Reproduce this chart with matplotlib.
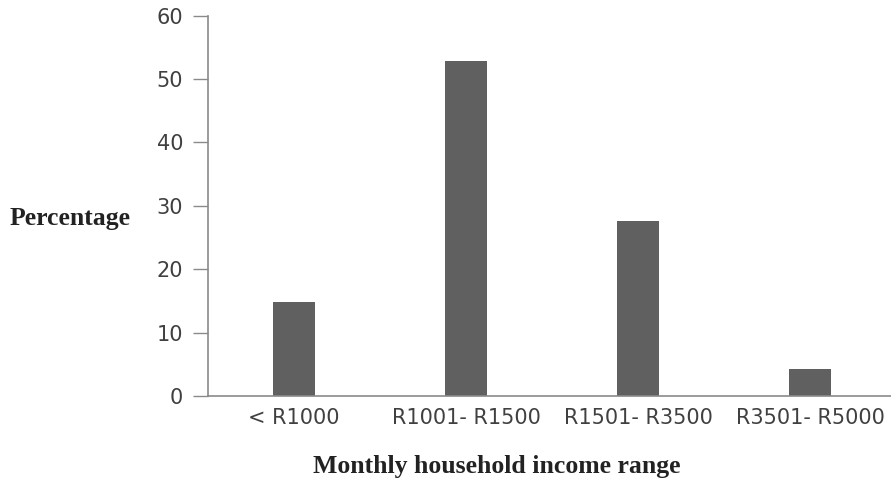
import matplotlib
matplotlib.use("Agg")
import matplotlib.pyplot as plt

categories = ["< R1000", "R1001- R1500", "R1501- R3500", "R3501- R5000"]
percentages = [14.9, 52.8, 27.6, 4.3]
y_ticks = [0, 10, 20, 30, 40, 50, 60]

fig = plt.figure(figsize=(8.91, 4.82), dpi=100)
# axes spans x 208..896 px, y 16..396 px (from top)
W, H = 891, 482
ax = fig.add_axes([208 / W, (H - 396) / H, (896 - 208) / W, (396 - 15.7) / H])

x = range(len(categories))
ax.bar(x, percentages, width=0.245, color="#606060", zorder=2)

ax.set_xlim(-0.5, 3.5)
ax.set_ylim(0, 60)
ax.set_yticks(y_ticks)
ax.set_xticks(list(x))
ax.set_xticklabels(categories)

for s in ["top", "right"]:
    ax.spines[s].set_visible(False)
for s in ["left", "bottom"]:
    ax.spines[s].set_color("#8a8a8a")
    ax.spines[s].set_linewidth(1.2)

ax.tick_params(axis="y", length=11, width=1.0, color="#8a8a8a", direction="out",
               labelsize=15, labelcolor="#404040", pad=7)
ax.tick_params(axis="x", length=0, labelsize=15, labelcolor="#404040", pad=9)
for lab in ax.get_xticklabels() + ax.get_yticklabels():
    lab.set_fontfamily("DejaVu Sans")

fig.text(10 / W, 1 - 218 / H, "Percentage", fontfamily="Liberation Serif",
         fontweight="bold", fontsize=18.5, color="#222222", ha="left", va="center")
fig.text(497 / W, 1 - 466 / H, "Monthly household income range", fontfamily="Liberation Serif",
         fontweight="bold", fontsize=18.5, color="#222222", ha="center", va="center")

fig.savefig("out.png", dpi=100)
